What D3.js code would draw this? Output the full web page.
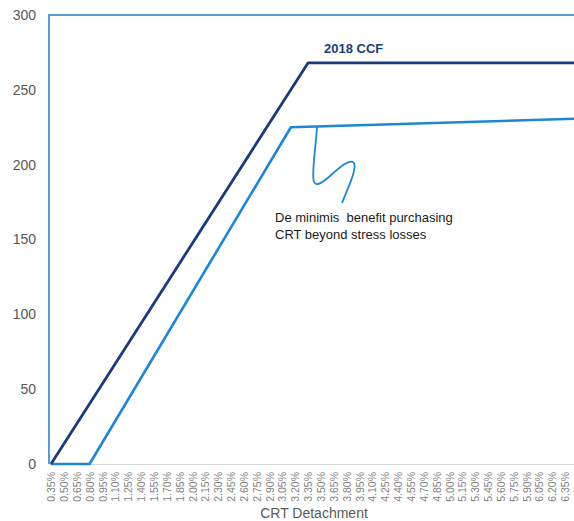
<!DOCTYPE html>
<html>
<head>
<meta charset="utf-8">
<script src="https://cdn.jsdelivr.net/npm/d3@7"></script>
<style>
  html, body { margin: 0; padding: 0; background: #ffffff; }
  svg { display: block; font-family: Arial, "Liberation Sans", sans-serif; }
</style>
</head>
<body>
<svg id="chart" width="574" height="521"></svg>
<script>
// Category tick labels (CRT detachment, %)
const tickLabels = [0.35,0.50,0.65,0.80,0.95,1.10,1.25,1.40,1.55,1.70,1.85,2.00,2.15,2.30,2.45,2.60,2.75,2.90,3.05,3.20,3.35,3.50,3.65,3.80,3.95,4.10,4.25,4.40,4.55,4.70,4.85,5.00,5.15,5.30,5.45,5.60,5.75,5.90,6.05,6.20,6.35,6.50];
const yTicks = [0, 50, 100, 150, 200, 250, 300];

// Series: breakpoints (detachment %, value)
const ccf2018X = [0.35, 3.35, 6.65];
const ccf2018Y = [0, 268, 268];
const proposedX = [0.35, 0.80, 3.15, 6.65];
const proposedY = [0, 0, 225, 231];

const seriesLabel = "2018 CCF";
const noteLines = ["De minimis  benefit purchasing", "CRT beyond stress losses"];
const xTitle = "CRT Detachment";

const svg = d3.select("#chart");
const plotLeft = 49, plotTop = 15, plotBottom = 464;

const x = d3.scaleLinear()
  .domain([tickLabels[0], tickLabels[tickLabels.length - 1]])
  .range([51, 51 + (tickLabels.length - 1) * 12.85]);
const y = d3.scaleLinear().domain([0, 300]).range([plotBottom, plotTop]);

// bottom axis line (light grey)
svg.append("line")
  .attr("x1", plotLeft).attr("x2", 574)
  .attr("y1", plotBottom + 0.5).attr("y2", plotBottom + 0.5)
  .attr("stroke", "#d9d9d9").attr("stroke-width", 1);

// Y axis labels
const yAxis = d3.axisLeft(y).tickValues(yTicks).tickSize(0).tickPadding(13);
const gy = svg.append("g").attr("transform", `translate(${plotLeft},0)`).call(yAxis);
gy.select(".domain").remove();
gy.selectAll("text").attr("fill", "#595959").style("font-size", "14px")
  .style("font-family", "Arial, 'Liberation Sans', sans-serif");

// X axis labels
const xAxis = d3.axisBottom(x).tickValues(tickLabels).tickSize(0)
  .tickFormat(d => d.toFixed(2) + "%");
const gx = svg.append("g").attr("transform", `translate(0,${plotBottom})`).call(xAxis);
gx.select(".domain").remove();
gx.selectAll("text")
  .attr("fill", "#7f7f7f")
  .style("font-size", "10.5px")
  .style("font-family", "Arial, 'Liberation Sans', sans-serif")
  .attr("text-anchor", "end")
  .attr("transform", "translate(0,8) rotate(-90)")
  .attr("x", 0).attr("y", 0).attr("dy", "0.35em");

// Plot border (top + left, light blue)
svg.append("path")
  .attr("d", `M${plotLeft},${plotBottom} L${plotLeft},${plotTop} L580,${plotTop}`)
  .attr("fill", "none").attr("stroke", "#5b9bd5").attr("stroke-width", 2);

const line = d3.line().x(d => x(d[0])).y(d => y(d[1]));

// Lighter blue series
svg.append("path")
  .datum(proposedX.map((v, i) => [v, proposedY[i]]))
  .attr("d", line)
  .attr("fill", "none").attr("stroke", "#1f86d0").attr("stroke-width", 2.6)
  .attr("stroke-linejoin", "round");

// 2018 CCF series (navy)
svg.append("path")
  .datum(ccf2018X.map((v, i) => [v, ccf2018Y[i]]))
  .attr("d", line)
  .attr("fill", "none").attr("stroke", "#1d3a7a").attr("stroke-width", 2.8)
  .attr("stroke-linejoin", "round");

// Series label
svg.append("text")
  .attr("x", 324).attr("y", 53)
  .attr("fill", "#1d3a7a").attr("font-weight", "bold")
  .style("font-size", "13px")
  .text(seriesLabel);

// Callout squiggle
svg.append("path")
  .attr("d", "M317,127 C316,145 312,170 313.5,180 C315,188 322,183 330,176 C340,167 350,158 354,163 C357,169 348,188 342,203")
  .attr("fill", "none").attr("stroke", "#1f86d0").attr("stroke-width", 1.8);

// Note text
svg.append("g").selectAll("text").data(noteLines).join("text")
  .attr("x", 275).attr("y", (d, i) => 222 + i * 16.5)
  .attr("fill", "#1a1a1a")
  .style("font-size", "13px")
  .style("white-space", "pre")
  .text(d => d);

// X axis title
svg.append("text")
  .attr("x", 314).attr("y", 518)
  .attr("text-anchor", "middle")
  .attr("fill", "#595959")
  .style("font-size", "14px")
  .text(xTitle);
</script>
</body>
</html>
